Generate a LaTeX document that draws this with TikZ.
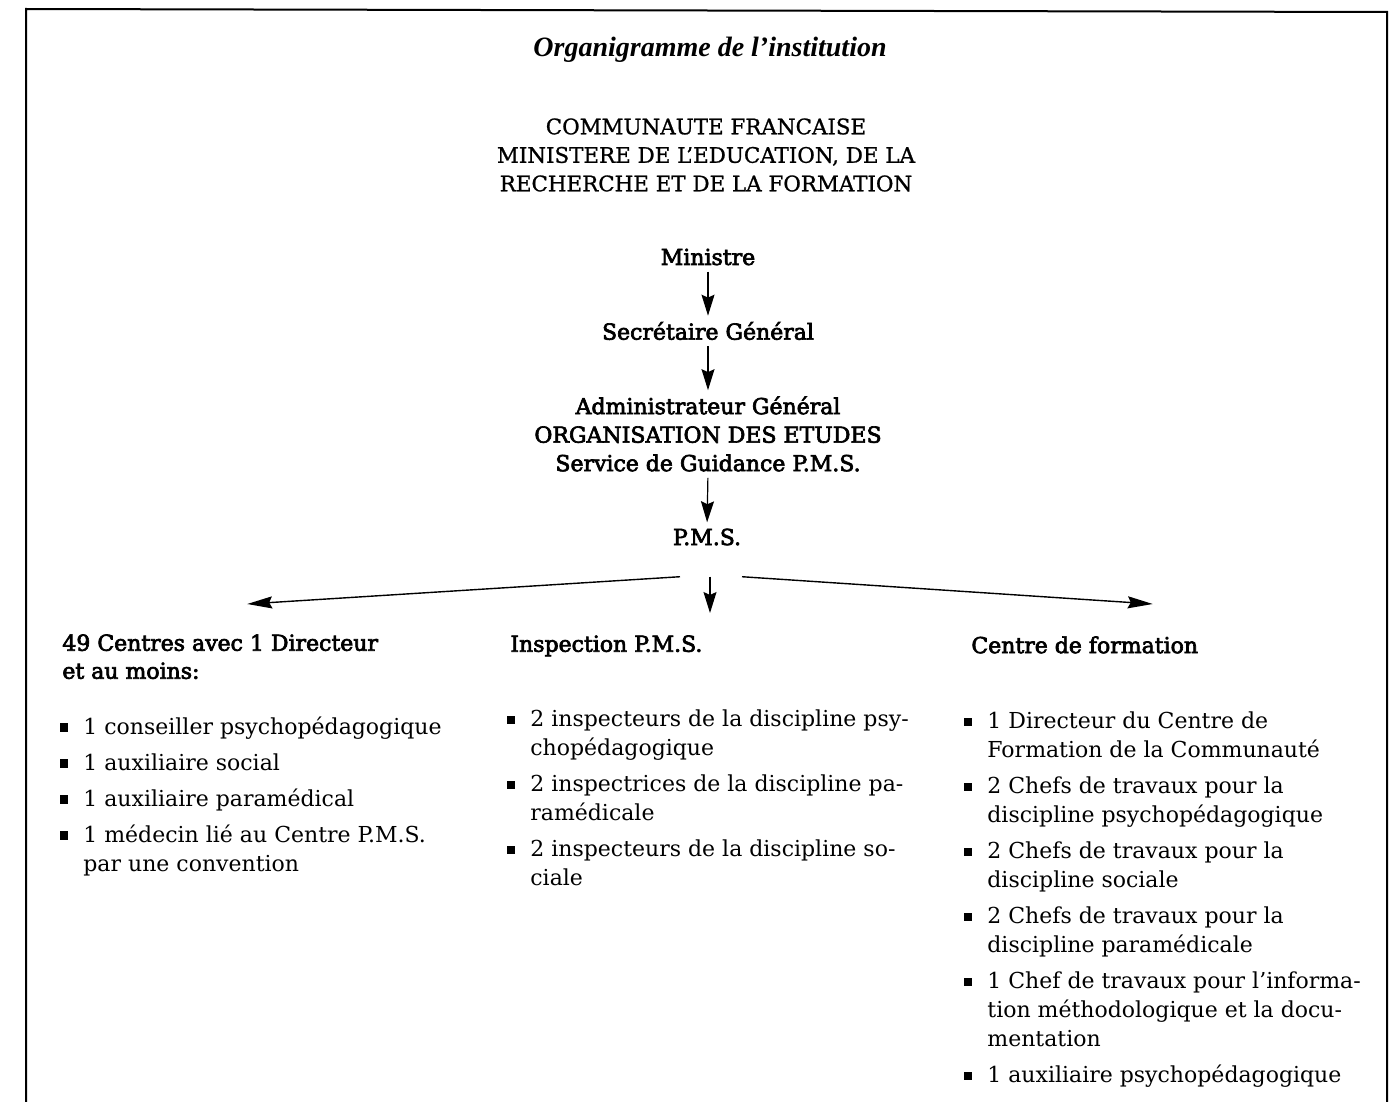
\documentclass[tikz,border=0pt]{standalone}
\usepackage{fontspec}
\setmainfont{DejaVu Serif}
\newfontfamily\demifamily{DejaVu Serif}[FakeBold=3]
\newfontfamily\capsfamily{DejaVu Serif}[FakeBold=1]
\newfontfamily\titlefamily{Liberation Serif}
\usetikzlibrary{arrows.meta,positioning}

\newcommand{\bodyfont}{\fontsize{11}{14.5}\selectfont}
\newcommand{\headfont}{\demifamily\fontsize{11}{14}\selectfont}
\newcommand{\sqbullet}{\leavevmode\llap{\rule[0.1em]{0.38em}{0.38em}\hspace{0.68em}}}
\newcommand{\gap}{3.5pt}

\tikzset{
  hub/.style={inner sep=0pt, align=center, font=\headfont},
  head/.style={inner sep=0pt, align=left, anchor=north west, font=\headfont},
  listbox/.style={inner sep=0pt, align=left, anchor=north west, font=\bodyfont},
  arr/.style={-{Stealth[length=10.5pt,width=6.5pt,inset=1.5pt]}, line width=0.6pt,
    shorten <=3pt, shorten >=3pt},
  fanarr/.style={-{Stealth[length=12.5pt,width=6pt,inset=1.5pt]}, line width=0.7pt},
}

\begin{document}
\begin{tikzpicture}[x=0.5pt, y=-0.5pt]
\useasboundingbox (0,0) rectangle (1392,1102);

% frame, open at the bottom
\draw[line width=1pt] (26,1102) -- (26,9) -- (1387,12) -- (1387,1102);

% heading
\node[inner sep=0pt, font=\titlefamily\bfseries\itshape\fontsize{14}{16}\selectfont]
  (title) at (710,50) {Organigramme de l’institution};
\node[inner sep=0pt, align=center, font=\capsfamily\fontsize{10.7}{14.25}\selectfont]
  (commu) at (706,155) {COMMUNAUTE FRANCAISE\\ MINISTERE DE L’EDUCATION, DE LA\\
  RECHERCHE ET DE LA FORMATION};

% chain
\node[hub] (ministre) at (708,257) {Ministre};
\node[hub] (secgen) at (708,331) {Secrétaire Général};
\node[hub, font=\demifamily\fontsize{11}{14.25}\selectfont] (admin) at (708,434)
  {Administrateur Général\\ ORGANISATION DES ETUDES\\ Service de Guidance P.M.S.};
\node[hub] (pms) at (707,537) {P.M.S.};

\draw[arr] (ministre.south) -- (secgen.north);
\draw[arr] (secgen.south) -- (admin.north);
\draw[arr] (admin.south) -- (pms.north);

% three branches
\node[head] (centres) at (62,634) {49 Centres avec 1 Directeur\\ et au moins:};
\node[head] (inspect) at (510,635) {Inspection P.M.S.};
\node[head] (formation) at (971,636) {Centre de formation};

\coordinate (forkL) at ([xshift=-13.5pt,yshift=-15.5pt]pms.south);
\coordinate (forkM) at ([xshift=1.5pt,yshift=-15.5pt]pms.south);
\coordinate (forkR) at ([xshift=17.5pt,yshift=-15.5pt]pms.south);

\draw[fanarr] (forkL) -- ([xshift=13.5pt,yshift=15pt]centres.north);
\draw[arr, shorten <=0pt, shorten >=11pt] (forkM) -- (forkM |- inspect.north);
\draw[fanarr] (forkR) -- ([xshift=34pt,yshift=16pt]formation.north);

% staff lists
\node[listbox] (leftlist) at (83,716) {%
  \sqbullet 1 conseiller psychopédagogique\\[\gap]
  \sqbullet 1 auxiliaire social\\[\gap]
  \sqbullet 1 auxiliaire paramédical\\[\gap]
  \sqbullet 1 médecin lié au Centre P.M.S.\\
  par une convention};

\node[listbox] (midlist) at (530,709) {%
  \sqbullet 2 inspecteurs de la discipline psy-\\
  chopédagogique\\[\gap]
  \sqbullet 2 inspectrices de la discipline pa-\\
  ramédicale\\[\gap]
  \sqbullet 2 inspecteurs de la discipline so-\\
  ciale};

\node[listbox] (rightlist) at (987,711) {%
  \sqbullet 1 Directeur du Centre de\\
  Formation de la Communauté\\[\gap]
  \sqbullet 2 Chefs de travaux pour la\\
  discipline psychopédagogique\\[\gap]
  \sqbullet 2 Chefs de travaux pour la\\
  discipline sociale\\[\gap]
  \sqbullet 2 Chefs de travaux pour la\\
  discipline paramédicale\\[\gap]
  \sqbullet 1 Chef de travaux pour l’informa-\\
  tion méthodologique et la docu-\\
  mentation\\[\gap]
  \sqbullet 1 auxiliaire psychopédagogique};
\end{tikzpicture}
\end{document}
